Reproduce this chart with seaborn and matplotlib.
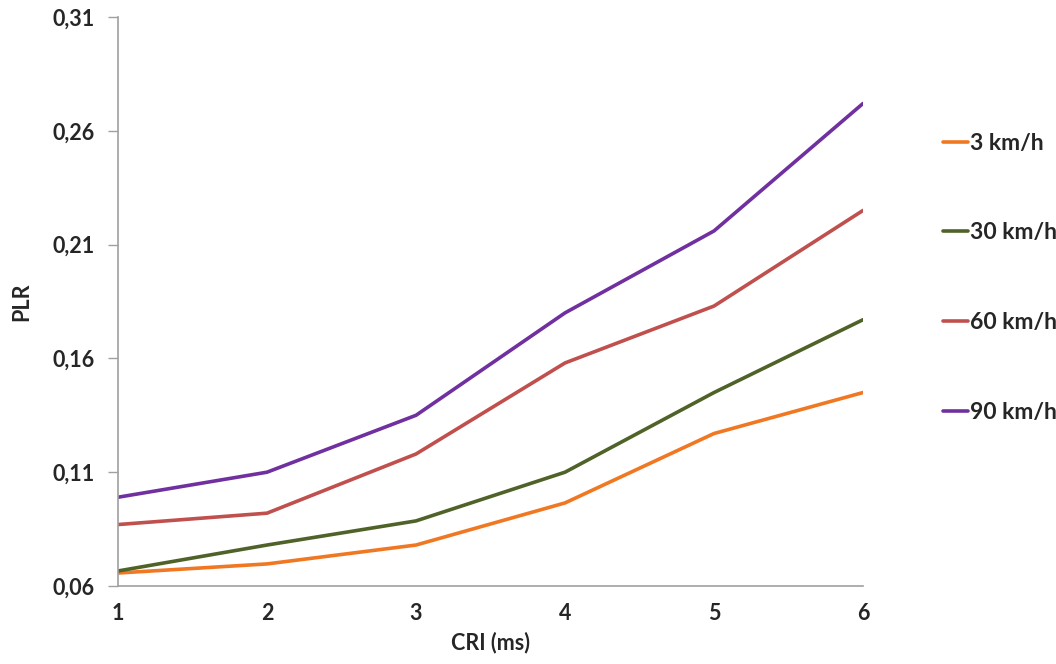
import pandas as pd
import matplotlib.pyplot as plt
import seaborn as sns

## data ----------------------------------------------------------------------
cri = [1, 2, 3, 4, 5, 6]
plr_3 = [0.0657, 0.0697, 0.078, 0.0965, 0.127, 0.145]
plr_30 = [0.0666, 0.078, 0.0886, 0.110, 0.145, 0.177]
plr_60 = [0.087, 0.092, 0.118, 0.158, 0.183, 0.225]
plr_90 = [0.099, 0.110, 0.135, 0.180, 0.216, 0.272]
labels = ["3 km/h", "30 km/h", "60 km/h", "90 km/h"]
yticks = [0.06, 0.11, 0.16, 0.21, 0.26, 0.31]
colors = ["#F07822", "#4F6228", "#C0504D", "#7030A0"]

## long-form table -----------------------------------------------------------
rows = []
for lab, vals in zip(labels, [plr_3, plr_30, plr_60, plr_90]):
    for x, v in zip(cri, vals):
        rows.append({"CRI": x, "PLR": v, "speed": lab})
df = pd.DataFrame(rows)

## plot ----------------------------------------------------------------------
sns.set_theme(style="white")
plt.rcParams["font.family"] = ["Lato", "DejaVu Sans"]

fig = plt.figure(figsize=(10.56, 6.64), dpi=100)
ax = fig.add_axes([118 / 1056, 1 - 586 / 664, (863 - 118) / 1056, (586 - 17) / 664])

sns.lineplot(data=df, x="CRI", y="PLR", hue="speed", palette=colors,
             linewidth=2.6, ax=ax, legend=False)

ax.set_xlim(1, 6)
ax.set_ylim(0.06, 0.31)
ax.set_xticks(cri)
ax.set_xticklabels([str(c) for c in cri], fontsize=15.5, fontweight="bold")
ax.set_yticks(yticks)
ax.set_yticklabels([f"{t:.2f}".replace(".", ",") for t in yticks],
                   fontsize=15.5, fontweight="bold")
ax.tick_params(axis="y", which="both", direction="out", length=7,
               color="#A0A0A0", width=1, pad=10, left=True)
ax.tick_params(axis="x", length=0, pad=12)

for s in ["top", "right"]:
    ax.spines[s].set_visible(False)
for s in ["left", "bottom"]:
    ax.spines[s].set_color("#A0A0A0")
    ax.spines[s].set_linewidth(1.2)

ax.set_xlabel("CRI (ms)", fontsize=15.5, fontweight="bold", labelpad=6)
ax.set_ylabel("PLR", fontsize=15.5, fontweight="bold", labelpad=14)

# legend, vertically spread like the original
handles = [plt.Line2D([], [], color=c, linewidth=2.6) for c in colors]
leg = fig.legend(handles, labels, loc="upper left",
                 bbox_to_anchor=(922 / 1056, 1 - 112 / 664),
                 frameon=False, handlelength=1.1, handletextpad=0.1,
                 labelspacing=3.0, prop={"size": 16.5, "weight": "bold"})

fig.savefig("out.png", dpi=100)
